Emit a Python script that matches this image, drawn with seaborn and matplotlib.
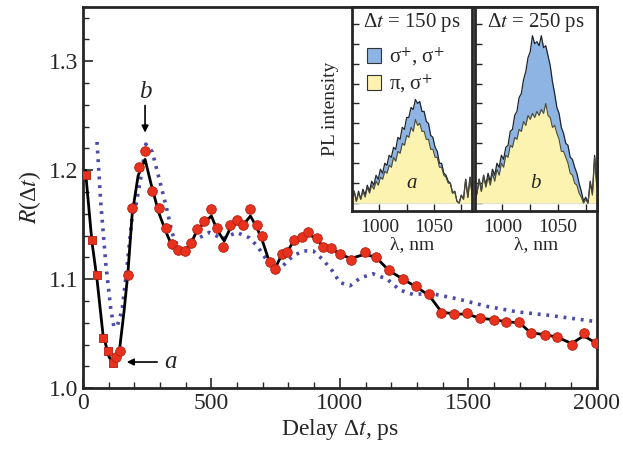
import numpy as np
import pandas as pd
import matplotlib
matplotlib.use("Agg")
import matplotlib.pyplot as plt
from matplotlib.patches import Patch
import seaborn as sns

# main panel: measured R(dt), squares for first points then circles
sq_x = [12, 35, 55, 78, 98, 118]
sq_y = [1.196, 1.136, 1.104, 1.046, 1.034, 1.023]
circ_x = [128, 143, 175, 192, 219, 242, 270, 297, 324, 348, 371, 398, 421, 445, 473,
          500, 523, 547, 574, 598, 625, 652, 676, 699, 727, 746, 773, 793, 820, 852,
          875, 910, 934, 965, 1000, 1043, 1098, 1141, 1191, 1246, 1297, 1348, 1395,
          1445, 1496, 1547, 1598, 1645, 1699, 1742, 1797, 1844, 1902, 1949, 1996]
circ_y = [1.029, 1.034, 1.104, 1.165, 1.203, 1.218, 1.181, 1.165, 1.147, 1.132, 1.127,
          1.126, 1.133, 1.146, 1.153, 1.164, 1.147, 1.130, 1.150, 1.154, 1.150, 1.164,
          1.150, 1.140, 1.116, 1.109, 1.123, 1.125, 1.136, 1.139, 1.143, 1.138, 1.130,
          1.129, 1.123, 1.118, 1.125, 1.120, 1.108, 1.100, 1.094, 1.086, 1.069, 1.068,
          1.069, 1.064, 1.063, 1.061, 1.061, 1.051, 1.049, 1.047, 1.040, 1.051, 1.041]

# fitted curve (solid black)
fit_x = [10, 35, 55, 78, 100, 120, 140, 160, 175, 192, 215, 242, 270, 297, 324, 348,
         371, 398, 421, 445, 473, 500, 523, 550, 574, 598, 625, 652, 676, 699, 727, 748,
         773, 800, 820, 852, 880, 910, 934, 970, 1000, 1043, 1098, 1141, 1191, 1246,
         1297, 1348, 1395, 1445, 1496, 1547, 1598, 1645, 1699, 1742, 1797, 1844, 1902,
         1949, 2000]
fit_y = [1.200, 1.135, 1.100, 1.050, 1.030, 1.020, 1.030, 1.070, 1.105, 1.160, 1.195,
         1.210, 1.183, 1.160, 1.143, 1.130, 1.127, 1.127, 1.133, 1.145, 1.152, 1.158,
         1.145, 1.135, 1.147, 1.151, 1.150, 1.158, 1.148, 1.135, 1.115, 1.110, 1.122,
         1.127, 1.135, 1.139, 1.141, 1.137, 1.130, 1.128, 1.123, 1.119, 1.123, 1.120,
         1.108, 1.100, 1.093, 1.085, 1.070, 1.068, 1.068, 1.064, 1.063, 1.061, 1.060,
         1.051, 1.049, 1.047, 1.041, 1.048, 1.041]

# model curve (blue dotted)
model_x = [55, 58, 70, 90, 109, 121, 135, 153, 172, 192, 206, 229, 245, 270, 297, 324,
           348, 375, 402, 453, 492, 543, 598, 648, 680, 714, 743, 777, 816, 856, 896,
           934, 973, 1000, 1040, 1078, 1129, 1184, 1234, 1285, 1352, 1457, 1574, 1691,
           1809, 2000]
model_y = [1.226, 1.215, 1.169, 1.112, 1.072, 1.056, 1.058, 1.072, 1.112, 1.158, 1.167,
           1.198, 1.224, 1.217, 1.192, 1.167, 1.142, 1.127, 1.127, 1.138, 1.143, 1.137,
           1.143, 1.138, 1.130, 1.118, 1.110, 1.112, 1.121, 1.126, 1.126, 1.118, 1.107,
           1.097, 1.094, 1.101, 1.105, 1.100, 1.090, 1.086, 1.087, 1.082, 1.075, 1.070,
           1.067, 1.061]

# insets: PL spectra
wl = np.arange(975, 1086, 2)
a_sig = [0.2, 0.6, 0.1, 0.6, 0.2, 0.7, 0.4, 0.9, 0.6, 1.1, 0.9, 1.4, 1.2, 1.7, 1.5, 2.0,
         1.9, 2.4, 2.3, 2.8, 2.7, 3.3, 3.2, 3.8, 3.7, 4.3, 4.3, 4.8, 4.7, 5.2, 5.0, 5.1,
         4.6, 4.6, 4.1, 4.0, 3.4, 3.3, 2.8, 2.6, 2.0, 2.0, 1.5, 1.4, 1.1, 1.0, 0.5, 0.6,
         0.1, 0.0, 0.4, 0.2, 1.2, 0.3, 1.3, 0.4]
a_pi = [0.2, 0.6, 0.1, 0.5, 0.2, 0.6, 0.3, 0.8, 0.5, 0.9, 0.7, 1.1, 0.9, 1.3, 1.2, 1.6,
        1.5, 1.9, 1.8, 2.3, 2.1, 2.6, 2.5, 3.0, 2.9, 3.4, 3.3, 3.8, 3.6, 4.2, 3.9, 4.0,
        3.6, 3.6, 3.2, 3.2, 2.7, 2.7, 2.3, 2.3, 1.8, 1.8, 1.4, 1.3, 1.0, 1.0, 0.5, 0.6,
        0.1, 0.0, 0.4, 0.2, 1.2, 0.3, 1.3, 0.4]
b_sig = [0.1, 0.5, 1.2, 0.6, 1.4, 0.9, 1.5, 1.1, 1.7, 1.4, 2.0, 1.8, 2.4, 2.2, 2.8, 2.9,
         3.6, 3.7, 4.4, 4.6, 5.3, 5.5, 6.2, 6.6, 7.3, 7.6, 8.4, 8.0, 8.1, 7.9, 8.4, 7.8,
         7.9, 7.4, 6.9, 6.1, 5.5, 4.8, 4.5, 3.8, 3.5, 3.0, 2.9, 2.3, 2.2, 1.8, 1.5, 1.0,
         0.6, 0.1, 0.3, 0.0, 1.1, 0.5, 2.4, 0.9]
b_pi = [0.1, 0.5, 1.2, 0.6, 1.4, 0.8, 1.3, 0.9, 1.5, 1.1, 1.7, 1.4, 2.0, 1.8, 2.4, 2.3,
        2.9, 2.8, 3.3, 3.2, 3.7, 3.6, 4.1, 3.9, 4.4, 4.2, 4.5, 4.3, 4.6, 4.4, 4.7, 4.5,
        5.0, 4.4, 4.3, 3.8, 3.9, 3.5, 3.2, 2.6, 2.6, 2.3, 2.0, 1.5, 1.4, 1.0, 0.9, 0.5,
        0.3, 0.0, 0.2, 0.0, 1.0, 0.4, 2.3, 0.8]

BLUE_FILL = "#8db4e2"
YELLOW_FILL = "#fcf3b0"
RED = "#e8321e"
DOT_BLUE = "#4b4bab"

sns.set_style("ticks")
plt.rcParams["font.family"] = ["Liberation Serif", "DejaVu Serif"]
plt.rcParams["mathtext.fontset"] = "stix"
plt.rcParams["xtick.direction"] = "in"
plt.rcParams["ytick.direction"] = "in"

fig = plt.figure(figsize=(6.23, 4.54), dpi=100)
ax = fig.add_axes([0.133, 0.145, 0.825, 0.84])

sns.lineplot(x=model_x, y=model_y, ax=ax, color=DOT_BLUE, lw=2.6,
             linestyle=(0, (0.8, 1.6)), sort=False)
sns.lineplot(x=fit_x, y=fit_y, ax=ax, color="black", lw=2.0, sort=False)
sns.scatterplot(x=sq_x, y=sq_y, ax=ax, marker="s", s=34, color=RED,
                edgecolor="#b02010", linewidth=0.6, zorder=5)
sns.scatterplot(x=circ_x, y=circ_y, ax=ax, marker="o", s=48, color=RED,
                edgecolor="#b02010", linewidth=0.6, zorder=5)

ax.set_xlim(0, 2000)
ax.set_ylim(1.0, 1.35)
ax.set_xticks([0, 500, 1000, 1500, 2000])
ax.set_xticks(np.arange(0, 2001, 100), minor=True)
ax.set_yticks([1.0, 1.1, 1.2, 1.3])
ax.set_yticks(np.arange(1.0, 1.351, 0.02), minor=True)
ax.set_yticklabels(["1.0", "1.1", "1.2", "1.3"])
ax.tick_params(axis="both", which="major", labelsize=17, length=7, width=1.2)
ax.tick_params(axis="both", which="minor", length=4, width=1.0)
for s in ax.spines.values():
    s.set_linewidth(2)
ax.set_xlabel("Delay Δ$t$, ps", fontsize=17, labelpad=2)
ax.set_ylabel("$R$(Δ$t$)", fontsize=17, labelpad=4)

ax.annotate("", xy=(242, 1.232), xytext=(242, 1.262),
            arrowprops=dict(arrowstyle="-|>", color="black", lw=1.2, mutation_scale=10))
ax.text(242, 1.272, "b", fontsize=18, style="italic", ha="center", va="center")
ax.annotate("", xy=(160, 1.024), xytext=(300, 1.024),
            arrowprops=dict(arrowstyle="-|>", color="black", lw=1.2, mutation_scale=10))
ax.text(340, 1.024, "a", fontsize=18, style="italic", ha="center", va="center")

insets = [
    ([0.565, 0.535, 0.193, 0.45], a_sig, a_pi, "150", "a"),
    ([0.762, 0.535, 0.196, 0.45], b_sig, b_pi, "250", "b"),
]
for i, (pos, sig, pi, dt, tag) in enumerate(insets):
    ia = fig.add_axes(pos)
    ia.fill_between(wl, 0, sig, color=BLUE_FILL, lw=0)
    ia.fill_between(wl, 0, pi, color=YELLOW_FILL, lw=0)
    sns.lineplot(x=wl, y=sig, ax=ia, color="#1e2430", lw=0.9)
    sns.lineplot(x=wl, y=pi, ax=ia, color="#4a4a3a", lw=0.8)
    ia.set_xlim(975, 1085)
    ia.set_ylim(-0.4, 9.85)
    ia.set_xticks([1000, 1050])
    ia.set_xticks([1025, 1075], minor=True)
    ia.set_yticks(np.arange(0, 10, 1))
    ia.set_yticklabels([])
    ia.tick_params(axis="x", which="major", labelsize=14, length=5, width=1, pad=6)
    ia.tick_params(axis="x", which="minor", length=5, width=1)
    ia.tick_params(axis="y", length=5, width=1)
    for s in ia.spines.values():
        s.set_linewidth(2)
    ia.set_xlabel("λ, nm", fontsize=14, labelpad=0)
    ia.text(0.5, 0.925, "Δ$t$ = " + dt + " ps", transform=ia.transAxes,
            fontsize=15, ha="center", va="center")
    ia.text(1030, 1.0, tag, fontsize=15, style="italic", ha="center", va="center")
    if i == 0:
        ia.set_ylabel("PL intensity", fontsize=14, labelpad=6)
        handles = [Patch(facecolor=BLUE_FILL, edgecolor="#333333", lw=0.8),
                   Patch(facecolor=YELLOW_FILL, edgecolor="#333333", lw=0.8)]
        ia.legend(handles, ["σ$^{+}$, σ$^{+}$", "π, σ$^{+}$"],
                  loc="upper left", bbox_to_anchor=(0.0, 0.88), frameon=False,
                  fontsize=15, handlelength=0.7, handleheight=0.7,
                  handletextpad=0.4, labelspacing=0.2, borderaxespad=0.3)

fig.savefig("out.png", dpi=100)
